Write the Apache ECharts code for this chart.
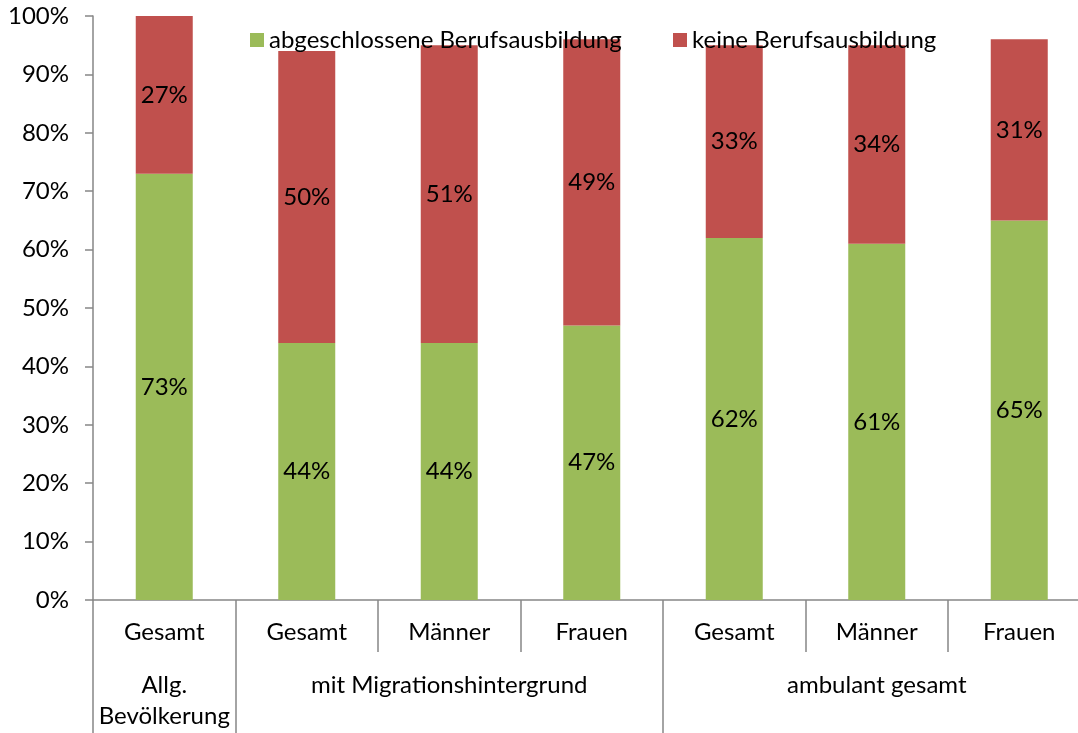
<!DOCTYPE html>
<html>
<head>
<meta charset="utf-8">
<script src="https://cdn.jsdelivr.net/npm/echarts@6/dist/echarts.min.js"></script>
<style>
  html, body { margin: 0; padding: 0; background: #ffffff; }
  #main { width: 1078px; height: 733px; }
</style>
</head>
<body>
<div id="main"></div>
<script>
// categories (first level) and groups (second level)
var categories = ['Gesamt', 'Gesamt', 'Männer', 'Frauen', 'Gesamt', 'Männer', 'Frauen'];
var groupLabels = ['Allg.\nBevölkerung', '', 'mit Migrationshintergrund', '', '', 'ambulant gesamt', ''];
var groupStarts = [0, 1, 4];

var abgeschlossen = [73, 44, 44, 47, 62, 61, 65];
var keine = [27, 50, 51, 49, 33, 34, 31];

var yTicks = [0, 10, 20, 30, 40, 50, 60, 70, 80, 90, 100];

var axisGray = '#868686';
var font = 'Lato';
var fs = 24;

var chart = echarts.init(document.getElementById('main'));

var option = {
  backgroundColor: '#ffffff',
  textStyle: { fontFamily: font },
  legend: [{
    data: ['abgeschlossene Berufsausbildung'],
    left: 245, top: 23,
    icon: 'rect', itemWidth: 14, itemHeight: 14,
    textStyle: { fontFamily: font, fontSize: fs, color: '#000' }
  }, {
    data: ['keine Berufsausbildung'],
    left: 668, top: 23,
    icon: 'rect', itemWidth: 14, itemHeight: 14,
    textStyle: { fontFamily: font, fontSize: fs, color: '#000' }
  }],
  // plot runs a little past the right edge, as in the original
  grid: { left: 93, top: 16, bottom: 133, width: 997.5, outerBoundsMode: 'none', containLabel: false },
  xAxis: [{
    type: 'category',
    data: categories,
    position: 'bottom',
    axisLine: { show: true, lineStyle: { color: axisGray, width: 1.5 } },
    axisTick: { show: true, length: 52, interval: 0, lineStyle: { color: axisGray, width: 1.5 } },
    axisLabel: { interval: 0, margin: 20, fontFamily: font, fontSize: fs, color: '#000' }
  }, {
    type: 'category',
    data: groupLabels,
    position: 'bottom',
    axisLine: { show: false },
    axisTick: {
      show: true,
      length: 133,
      interval: function (index) { return groupStarts.indexOf(index) >= 0; },
      lineStyle: { color: axisGray, width: 1.5 }
    },
    axisLabel: { interval: 0, margin: 70, fontFamily: font, fontSize: fs, lineHeight: 31, color: '#000' }
  }],
  yAxis: {
    type: 'value',
    min: yTicks[0],
    max: yTicks[yTicks.length - 1],
    interval: 10,
    splitLine: { show: false },
    axisLine: { show: true, lineStyle: { color: axisGray, width: 1.5 } },
    axisTick: { show: true, length: 8, lineStyle: { color: axisGray, width: 1.5 } },
    axisLabel: { margin: 24, fontFamily: font, fontSize: fs, color: '#000', formatter: '{value}%' }
  },
  series: [{
    name: 'abgeschlossene Berufsausbildung',
    type: 'bar',
    stack: 'total',
    barWidth: '40%',
    data: abgeschlossen,
    itemStyle: { color: '#9BBB59' },
    label: { show: true, position: 'inside', formatter: '{c}%', fontFamily: font, fontSize: fs, color: '#000' }
  }, {
    name: 'keine Berufsausbildung',
    type: 'bar',
    stack: 'total',
    barWidth: '40%',
    data: keine,
    itemStyle: { color: '#C0504D' },
    label: { show: true, position: 'inside', formatter: '{c}%', fontFamily: font, fontSize: fs, color: '#000' }
  }]
};

chart.setOption(option);
</script>
</body>
</html>
